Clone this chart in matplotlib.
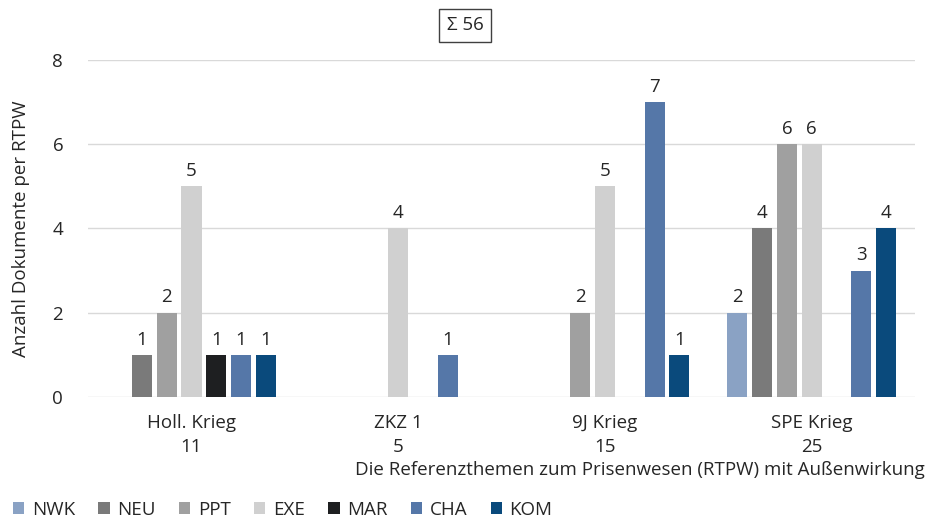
import numpy as np
import matplotlib.pyplot as plt

plt.rcParams['font.family'] = ['Open Sans', 'DejaVu Sans']

groups = ['Holl. Krieg\n11', 'ZKZ 1\n5', '9J Krieg\n15', 'SPE Krieg\n25']
series = ['NWK', 'NEU', 'PPT', 'EXE', 'MAR', 'CHA', 'KOM']
colors = ['#8aa2c4', '#7a7a7a', '#a0a0a0', '#d0d0d0', '#1e1f21', '#5577a8', '#0a4a7c']

nwk = [0, 0, 0, 2]
neu = [1, 0, 0, 4]
ppt = [2, 0, 2, 6]
exe = [5, 4, 5, 6]
mar = [1, 0, 0, 0]
cha = [1, 1, 7, 3]
kom = [1, 0, 1, 4]
values = [nwk, neu, ppt, exe, mar, cha, kom]

fs = 13.5
txt = '#262626'

fig = plt.figure(figsize=(9.28, 5.21), dpi=100)
ax = fig.add_axes([0.095, 0.238, 0.891, 0.647])

x = np.arange(len(groups))
slot = 0.12
width = 0.097
for i, (name, vals, col) in enumerate(zip(series, values, colors)):
    pos = x + (i - 3) * slot
    for xp, v in zip(pos, vals):
        if v > 0:
            ax.bar(xp, v, width=width, color=col, zorder=3)
            ax.text(xp, v + 0.15, str(v), ha='center', va='bottom', fontsize=fs, color=txt)
    ax.bar([0], [0], width=0, color=col, label=name)

ax.set_xlim(-0.5, 3.5)
ax.set_ylim(0, 8)
ax.set_yticks([0, 2, 4, 6, 8])
ax.set_xticks(x)
ax.set_xticklabels(groups, fontsize=fs, color=txt, linespacing=1.45)
ax.tick_params(axis='both', length=0, labelsize=fs, colors=txt)
ax.tick_params(axis='y', pad=18)
ax.tick_params(axis='x', pad=12)
ax.grid(axis='y', color='#d9d9d9', linewidth=1, zorder=0)
for s in ax.spines.values():
    s.set_visible(False)

ax.set_ylabel('Anzahl Dokumente per RTPW', fontsize=fs, color=txt, labelpad=16)
fig.text(0.997, 0.098, 'Die Referenzthemen zum Prisenwesen (RTPW) mit Außenwirkung',
         ha='right', va='center', fontsize=fs, color=txt)
fig.text(0.501, 0.952, 'Σ 56', ha='center', va='center', fontsize=fs, color=txt,
         bbox=dict(boxstyle='square,pad=0.4', facecolor='white', edgecolor='#404040', linewidth=1))

fig.legend(loc='lower left', bbox_to_anchor=(-0.004, -0.028), ncol=7, frameon=False,
           fontsize=fs, handlelength=0.6, handleheight=0.6, handletextpad=0.4,
           columnspacing=1.25, labelcolor=txt)

fig.savefig('out.png', dpi=100)
